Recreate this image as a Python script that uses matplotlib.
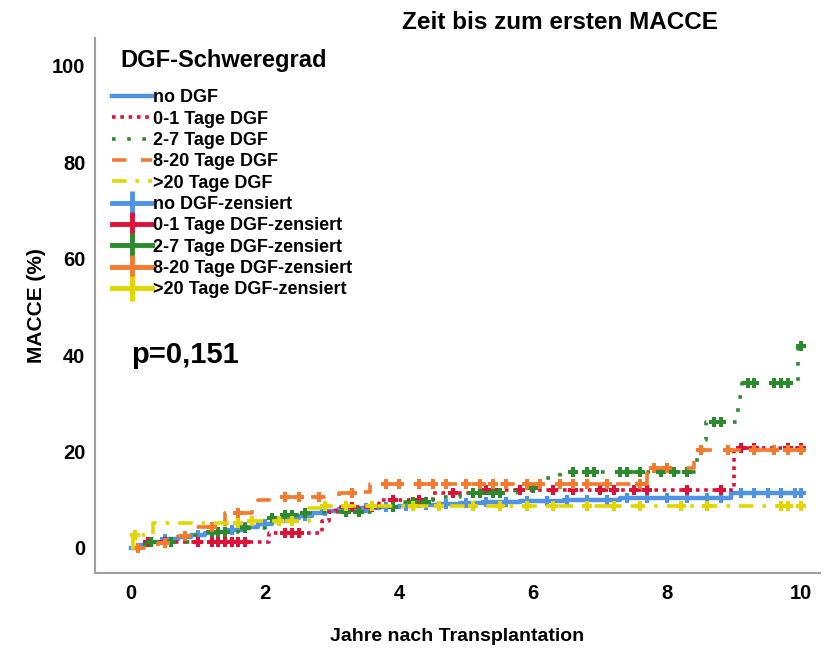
import numpy as np
import matplotlib.pyplot as plt
from matplotlib.lines import Line2D

plt.rcParams['font.family'] = ['Liberation Sans', 'DejaVu Sans']
plt.rcParams['font.weight'] = 'bold'

# Kaplan-Meier Verlauf (Jahre, kumulative MACCE in %)
groups = ["no DGF", "0-1 Tage DGF", "2-7 Tage DGF", "8-20 Tage DGF", ">20 Tage DGF"]

no_t = [0, 0.15, 0.3, 0.5, 0.7, 0.9, 1.1, 1.3, 1.5, 1.7, 1.9, 2.1, 2.3, 2.5, 2.7,
        2.9, 3.1, 3.4, 3.7, 4.0, 4.3, 4.6, 4.9, 5.3, 5.8, 6.5, 7.3, 8.95, 10.0]
no_y = [0, 0.6, 1.2, 1.8, 2.3, 2.7, 3.0, 3.3, 3.8, 4.4, 5.0, 5.5, 6.2, 6.7, 7.2,
        7.7, 8.1, 8.3, 8.5, 8.7, 8.9, 9.1, 9.3, 9.6, 9.8, 10.0, 10.3, 11.3, 11.3]

d01_t = [0, 0.2, 2.05, 2.85, 2.95, 3.05, 3.7, 4.5, 5.2, 9.0, 10.0]
d01_y = [0, 1.3, 3.1, 5.5, 7.5, 8.5, 10.0, 11.4, 12.0, 20.7, 20.7]

d27_t = [0, 0.2, 0.95, 1.05, 1.6, 2.0, 2.2, 2.5, 2.8, 3.6, 4.0, 4.5, 4.9, 5.75,
         6.1, 6.4, 8.45, 8.52, 8.58, 9.05, 9.12, 9.95, 10.0]
d27_y = [0, 1.2, 2.7, 3.3, 4.1, 6.2, 6.8, 7.2, 7.5, 8.5, 9.5, 10.5, 11.4, 12.5,
         14.5, 15.8, 19.0, 22.4, 26.1, 31.3, 34.2, 41.9, 41.9]

d820_t = [0, 0.4, 0.7, 0.95, 1.4, 1.8, 1.9, 2.05, 3.1, 3.45, 3.57, 7.7, 8.4, 10.0]
d820_y = [0, 1.0, 2.5, 4.4, 7.2, 9.0, 10.0, 10.6, 11.4, 11.6, 13.2, 16.6, 20.3, 20.3]

d20_t = [0, 0.02, 0.33, 1.8, 2.65, 2.9, 10.0]
d20_y = [0, 2.7, 5.2, 5.6, 8.3, 8.7, 8.7]

# zensierte Zeitpunkte
no_c = [0.3, 0.5, 0.8, 1.0, 1.2, 1.5, 1.7, 2.0, 2.3, 2.6, 2.9, 3.2, 3.5, 3.8, 4.1,
        4.4, 4.7, 5.0, 5.3, 5.6, 5.9, 6.2, 6.5, 6.8, 7.1, 7.4, 7.7, 8.0, 8.3, 8.6,
        8.8, 9.1, 9.3, 9.5, 9.7, 9.9, 10.0]
d01_c = [0.25, 0.5, 1.0, 1.2, 1.3, 1.4, 1.5, 1.6, 1.7, 2.3, 2.4, 2.5, 3.3, 3.6,
         3.9, 4.3, 4.8, 5.3, 5.4, 5.8, 6.3, 6.6, 7.0, 7.2, 7.5, 7.7, 8.3, 8.8,
         9.1, 9.3, 9.8, 10.0]
d27_c = [0.3, 0.6, 1.2, 1.3, 1.4, 1.7, 2.1, 2.3, 2.4, 2.6, 3.2, 3.4, 3.9, 4.2,
         4.4, 5.1, 5.2, 5.4, 5.5, 6.0, 6.6, 6.8, 6.9, 7.3, 7.4, 7.6, 7.9, 8.1,
         8.3, 8.7, 8.8, 9.2, 9.3, 9.6, 9.7, 9.8, 10.0]
d820_c = [0.1, 0.5, 0.8, 1.2, 1.6, 2.3, 2.5, 2.8, 3.3, 3.8, 4.0, 4.3, 4.5, 4.7,
          5.0, 5.2, 5.4, 5.6, 5.9, 6.1, 6.4, 6.6, 6.8, 7.1, 7.6, 7.8, 8.0, 8.5,
          8.9, 9.3, 9.6, 9.8, 10.0]
d20_c = [0.05, 1.6, 1.8, 2.2, 2.4, 2.9, 3.2, 3.6, 4.2, 4.6, 5.1, 5.5, 5.9, 6.3,
         6.8, 7.2, 7.6, 8.2, 8.6, 9.7, 9.8, 10.0]

series = [(no_t, no_y, no_c), (d01_t, d01_y, d01_c), (d27_t, d27_y, d27_c),
          (d820_t, d820_y, d820_c), (d20_t, d20_y, d20_c)]
colors = ['#4f93e6', '#dc1238', '#2b8a2b', '#f47a2e', '#e3d600']
styles = ['-', (0, (1, 1.3)), (0, (1, 3.2)), (0, (4, 4)), (0, (4, 2.5, 1, 2.5))]
widths = [3.2, 2.6, 2.6, 2.6, 2.6]

fig = plt.figure(figsize=(8.31, 6.48), dpi=100)
ax = fig.add_axes([0.1143, 0.1157, 0.8725, 0.8257])

for (t, y, c), col, ls, lw in zip(series, colors, styles, widths):
    ax.plot(t, y, drawstyle='steps-post', color=col, linestyle=ls, lw=lw)
    idx = np.searchsorted(t, c, side='right') - 1
    cy = np.array(y)[idx]
    ax.plot(c, cy, linestyle='none', marker='P', color=col, ms=7.5, mew=0)

ax.set_xlim(-0.54, 10.28)
ax.set_ylim(-5.2, 105.8)
ax.set_xticks([0, 2, 4, 6, 8, 10])
ax.set_yticks([0, 20, 40, 60, 80, 100])
ax.tick_params(length=0, labelsize=14.5)
ax.tick_params(axis='x', pad=8)
ax.tick_params(axis='y', pad=7)
for lab in ax.get_xticklabels() + ax.get_yticklabels():
    lab.set_fontweight('bold')
for s in ['top', 'right']:
    ax.spines[s].set_visible(False)
for s in ['left', 'bottom']:
    ax.spines[s].set_color('#a0a0a0')
    ax.spines[s].set_linewidth(1.5)

ax.set_xlabel('Jahre nach Transplantation', fontsize=14, fontweight='bold', labelpad=18)
ax.set_ylabel('MACCE (%)', fontsize=15, fontweight='bold', labelpad=4)
fig.text(0.674, 0.965, 'Zeit bis zum ersten MACCE', ha='center', va='center',
         fontsize=17.5, fontweight='bold')
ax.text(0.0, 40, 'p=0,151', fontsize=21, fontweight='bold', va='center')

handles = []
labels = []
for g, col, ls, lw in zip(groups, colors, styles, widths):
    handles.append(Line2D([], [], color=col, linestyle=ls, lw=lw))
    labels.append(g)
for g, col in zip(groups, colors):
    handles.append(Line2D([], [], color=col, lw=3.5, marker='|', ms=18, mew=3.5))
    labels.append(g + '-zensiert')

ax.text(0.0345, 0.957, 'DGF-Schweregrad', transform=ax.transAxes, fontsize=17,
        fontweight='bold', va='center', ha='left')
leg = ax.legend(handles, labels, loc='upper left', bbox_to_anchor=(0.0234, 0.904),
                bbox_transform=ax.transAxes, frameon=False, fontsize=13,
                handlelength=2.2, handletextpad=0.05, labelspacing=0.24,
                borderpad=0, borderaxespad=0)
for txt in leg.get_texts():
    txt.set_fontweight('bold')

fig.savefig('out.png', dpi=100)
